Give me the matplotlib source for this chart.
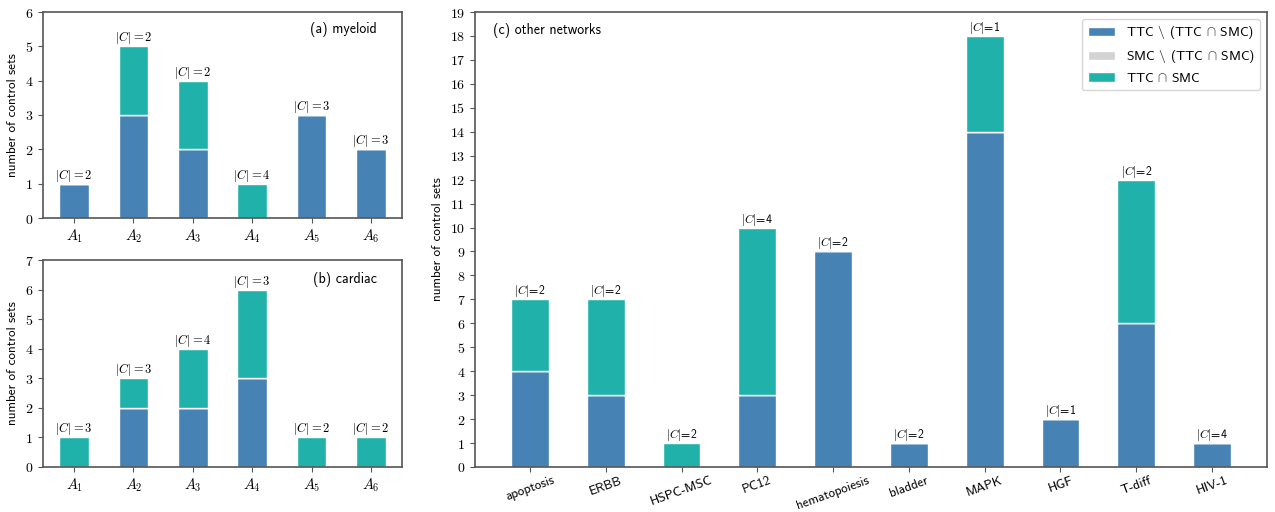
import numpy as np
import matplotlib
matplotlib.use("Agg")
import matplotlib.pyplot as plt
from matplotlib.ticker import FuncFormatter

plt.rcParams["font.family"] = ["cmss10", "DejaVu Sans"]
plt.rcParams["mathtext.fontset"] = "cm"
plt.rcParams["axes.unicode_minus"] = False
plt.rcParams["axes.edgecolor"] = "#555555"
plt.rcParams["axes.linewidth"] = 1.2
plt.rcParams["xtick.color"] = "#555555"
plt.rcParams["ytick.color"] = "#555555"
plt.rcParams["xtick.labelcolor"] = "black"
plt.rcParams["ytick.labelcolor"] = "black"

C_TTC = "#4682B4"
C_SMC = "#D3D3D3"
C_BOTH = "#20B2AA"

# (a) myeloid
mye_ticks = [r"$A_{%d}$" % i for i in range(1, 7)]
mye_ttc = [1, 3, 2, 0, 3, 2]
mye_both = [0, 2, 2, 1, 0, 0]
mye_size = [2, 2, 2, 4, 3, 3]

# (b) cardiac
car_ticks = [r"$A_{%d}$" % i for i in range(1, 7)]
car_ttc = [0, 2, 2, 3, 0, 0]
car_both = [1, 1, 2, 3, 1, 1]
car_size = [3, 3, 4, 3, 2, 2]

# (c) other networks
oth_names = ["apoptosis", "ERBB", "HSPC-MSC", "PC12", "hematopoiesis",
             "bladder", "MAPK", "HGF", "T-diff", "HIV-1"]
oth_ttc = [4, 3, 0, 3, 9, 1, 14, 2, 6, 1]
oth_both = [3, 4, 1, 7, 0, 0, 4, 0, 6, 0]
oth_size = [2, 2, 2, 4, 2, 2, 1, 1, 2, 4]


def stacked(ax, ttc, both, sizes, fmt, fs):
    x = np.arange(len(ttc))
    ttc = np.array(ttc)
    both = np.array(both)
    ax.bar(x, ttc, 0.5, color=C_TTC, edgecolor="white", linewidth=1,
           label=r"TTC $\backslash$ (TTC $\cap$ SMC)")
    ax.bar(x, np.zeros_like(ttc), 0.5, bottom=ttc, color=C_SMC,
           edgecolor="white", linewidth=1,
           label=r"SMC $\backslash$ (TTC $\cap$ SMC)")
    ax.bar(x, both, 0.5, bottom=ttc, color=C_BOTH, edgecolor="white",
           linewidth=1, label=r"TTC $\cap$ SMC")
    for xi, h, s in zip(x, ttc + both, sizes):
        ax.text(xi, h, fmt % s, ha="center", va="bottom", fontsize=fs)
    ax.set_xticks(x)
    ax.yaxis.set_major_formatter(FuncFormatter(lambda v, p: r"$%d$" % v))
    ax.set_ylabel("number of control sets", fontsize=9.5)
    ax.tick_params(axis="y", labelsize=10)


W, H = 1275, 512
fig = plt.figure(figsize=(12.75, 5.12), dpi=100)
ax_a = fig.add_axes([43 / W, 1 - 218 / H, 359 / W, 206 / H])
ax_b = fig.add_axes([43 / W, 1 - 467 / H, 359 / W, 207 / H])
ax_c = fig.add_axes([475 / W, 1 - 467 / H, 792 / W, 455 / H])

stacked(ax_a, mye_ttc, mye_both, mye_size, r"$|C| = %d$", 9)
ax_a.set_xticklabels(mye_ticks, fontsize=10.5)
ax_a.set_ylim(0, 6)
ax_a.text(0.93, 0.95, "(a) myeloid", transform=ax_a.transAxes,
          ha="right", va="top", fontsize=10)

stacked(ax_b, car_ttc, car_both, car_size, r"$|C| = %d$", 9)
ax_b.set_xticklabels(car_ticks, fontsize=10.5)
ax_b.set_ylim(0, 7)
ax_b.text(0.93, 0.94, "(b) cardiac", transform=ax_b.transAxes,
          ha="right", va="top", fontsize=10)

stacked(ax_c, oth_ttc, oth_both, oth_size, r"$|C|$=%d", 8.5)
ax_c.set_xticklabels(oth_names, rotation=20, fontsize=9.5)
ax_c.tick_params(axis="x", pad=2)
ax_c.set_ylim(0, 19)
ax_c.set_yticks(range(0, 20))
ax_c.text(0.023, 0.976, "(c) other networks", transform=ax_c.transAxes,
          ha="left", va="top", fontsize=10)
ax_c.legend(loc="upper right", fontsize=9.8)

fig.savefig("out.png", dpi=100)
